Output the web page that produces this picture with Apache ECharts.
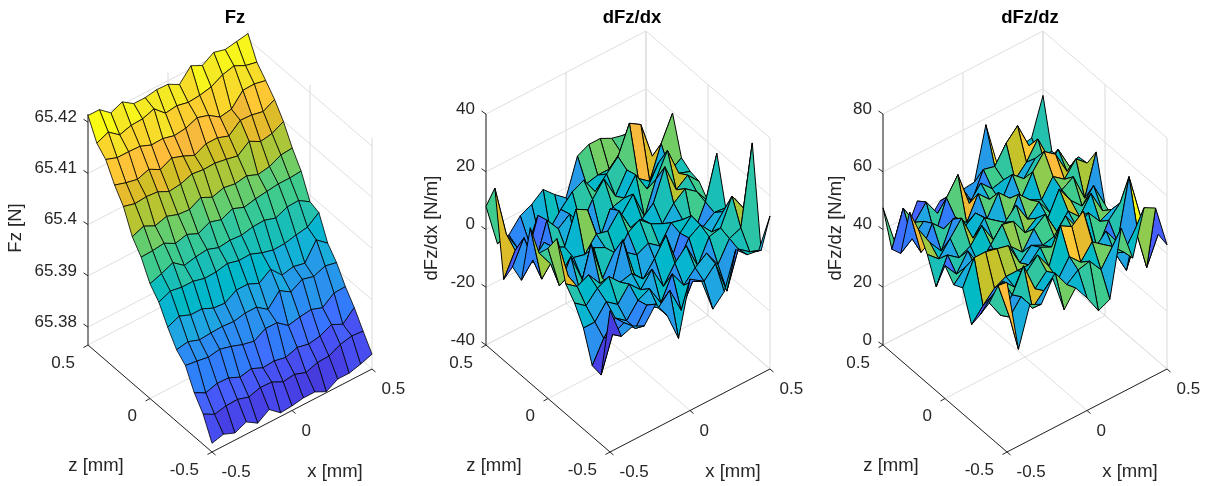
<!DOCTYPE html>
<html>
<head>
<meta charset="utf-8">
<title>Fz surfaces</title>
<style>
  html, body { margin: 0; padding: 0; background: #fff; }
  #main { width: 1205px; height: 486px; }
</style>
<script src="https://cdn.jsdelivr.net/npm/echarts@6/dist/echarts.min.js"></script>
</head>
<body>
<div id="main"></div>
<script>
// grid positions, same for all three surfaces
const xValues = [-0.5, -0.4286, -0.3571, -0.2857, -0.2143, -0.1429, -0.0714, 0, 0.0714, 0.1429, 0.2143, 0.2857, 0.3571, 0.4286, 0.5];
const zValues = [0.5, 0.4286, 0.3571, 0.2857, 0.2143, 0.1429, 0.0714, 0, -0.0714, -0.1429, -0.2143, -0.2857, -0.3571, -0.4286, -0.5];
const floorTicks = [-0.5, 0, 0.5];

const fzTicks = [65.38, 65.39, 65.4, 65.41, 65.42];
const dxTicks = [-40, -20, 0, 20, 40];
const dzTicks = [0, 20, 40, 60, 80];

// one row per z value, one column per x value
const fzValues = [
  [65.4213, 65.4213, 65.4195, 65.4205, 65.4190, 65.4190, 65.4194, 65.4193, 65.4181, 65.4206, 65.4195, 65.4209, 65.4203, 65.4207, 65.4211],
  [65.4174, 65.4184, 65.4167, 65.4174, 65.4175, 65.4183, 65.4163, 65.4166, 65.4161, 65.4163, 65.4168, 65.4180, 65.4186, 65.4175, 65.4170],
  [65.4157, 65.4149, 65.4149, 65.4148, 65.4139, 65.4140, 65.4134, 65.4137, 65.4146, 65.4139, 65.4124, 65.4128, 65.4153, 65.4154, 65.4149],
  [65.4122, 65.4115, 65.4110, 65.4118, 65.4106, 65.4117, 65.4109, 65.4099, 65.4110, 65.4110, 65.4102, 65.4121, 65.4120, 65.4115, 65.4127],
  [65.4095, 65.4089, 65.4091, 65.4089, 65.4078, 65.4081, 65.4089, 65.4086, 65.4087, 65.4083, 65.4078, 65.4095, 65.4083, 65.4087, 65.4099],
  [65.4051, 65.4060, 65.4049, 65.4056, 65.4048, 65.4046, 65.4058, 65.4047, 65.4054, 65.4050, 65.4054, 65.4045, 65.4049, 65.4060, 65.4062],
  [65.4026, 65.4027, 65.4030, 65.4018, 65.4024, 65.4014, 65.4025, 65.4018, 65.4028, 65.4019, 65.4024, 65.4027, 65.4030, 65.4030, 65.4032],
  [65.3989, 65.3997, 65.4007, 65.3990, 65.3995, 65.3998, 65.3990, 65.3993, 65.3991, 65.3996, 65.3997, 65.3990, 65.4000, 65.4001, 65.3987],
  [65.3968, 65.3978, 65.3974, 65.3974, 65.3968, 65.3969, 65.3974, 65.3968, 65.3969, 65.3960, 65.3954, 65.3955, 65.3960, 65.3964, 65.3981],
  [65.3934, 65.3944, 65.3935, 65.3935, 65.3925, 65.3923, 65.3937, 65.3937, 65.3927, 65.3943, 65.3920, 65.3925, 65.3920, 65.3954, 65.3936],
  [65.3905, 65.3909, 65.3901, 65.3903, 65.3904, 65.3902, 65.3907, 65.3907, 65.3891, 65.3916, 65.3902, 65.3915, 65.3909, 65.3918, 65.3913],
  [65.3889, 65.3886, 65.3882, 65.3886, 65.3880, 65.3872, 65.3867, 65.3880, 65.3880, 65.3863, 65.3868, 65.3871, 65.3863, 65.3880, 65.3881],
  [65.3851, 65.3839, 65.3846, 65.3845, 65.3835, 65.3840, 65.3830, 65.3832, 65.3827, 65.3835, 65.3830, 65.3834, 65.3845, 65.3834, 65.3855],
  [65.3824, 65.3812, 65.3817, 65.3818, 65.3811, 65.3818, 65.3817, 65.3806, 65.3809, 65.3801, 65.3809, 65.3810, 65.3821, 65.3826, 65.3824],
  [65.3782, 65.3788, 65.3779, 65.3789, 65.3775, 65.3790, 65.3772, 65.3774, 65.3778, 65.3778, 65.3767, 65.3780, 65.3780, 65.3786, 65.3794]
];

const dxValues = [
  [8, -7, -6, -1.4, 0.5, 3.6, -0.2, -3.4, 9, 11, 11, 9, 8, 5, -6],
  [17, -1, -8, -8, -10, -12, -10, -6, 2, 3, 3, 7, 12, 0, -0.6],
  [-12, -4, -9, 4, -3, 2, 6, 8, 2, 6, 10, 19.5, 17, 4, 6],
  [-5, 3, -8, 5, 0, 3, -3, 4, 9, 1, 8, 3, 0, 11, 19.5],
  [-7, -2, 2, -5, -5.5, -9, -9, -6, 2, 3, 9, 2, 9, 4, 6.7],
  [13.8, -6, 3, 1, 12, 9.8, -3, 6, 2, 7, -3, 8, 16, 6, 4.6],
  [7.7, 2, -3, 0, -1, 4, 3, 8, 0, 1, 4.5, 15, 5, 8, 3.8],
  [12, -3, 5, -5, 4, 2, -3, 3, 5.5, 2, 0, 5, 8, 5, -0.4],
  [18, 3, -4, 10, -4, 3, 1, -2, 0, -3, 3, 2, -4.6, 4, 18.8],
  [5, 2, 4, -1, -3.6, 10, -4, -13, -5, -8, 2, 6, 0, 3, 2.6],
  [1, -2, 2, 4, 0, 1, -3, 2, 8, -4, 3, 5.5, 1, 6, 8.6],
  [-5, -5, 0, -3, 2, -2, 3, -5, 1, 5, -4, 4, 5, 14, 7.8],
  [-15.4, -8, -3, -6, -1, 1, -6, 2, -4, 0, 3, -3, 4, 5.6, 33],
  [-16, -4, -2, -6, 0, -3, 1, -8, 0, -2, 2, -9.5, 3, 0, -1.6],
  [9, -2, -0.5, -2.5, 3, -3, -13, 5.5, 2.8, -9, -5, 7.5, 3.7, 3, 13]
];

const dzValues = [
  [47.5, 34, 35, 43.7, 35, 39.6, 40, 39.5, 40, 57.8, 42, 42, 44, 45, 57.7],
  [35.8, 48, 41, 46, 40, 44, 43, 38, 47, 46, 52, 56, 47, 41, 41],
  [37, 40, 44, 37, 48, 54, 42, 47, 43, 44, 42, 46, 52, 43, 41.4],
  [54, 38, 46, 42, 44, 40, 48, 44, 41, 48.5, 45, 50, 44, 49, 41],
  [50.6, 44, 39, 48, 43, 46, 42, 49, 45, 43, 50, 55, 52, 44, 47],
  [44.6, 41, 46, 51, 42, 47, 44, 41, 49, 45, 43, 49, 46, 51, 47.5],
  [36, 45, 42, 44, 49, 42, 46, 50, 43, 47, 41, 47, 49.5, 40, 54],
  [46, 41, 47, 40, 45, 50, 49, 43, 46, 44, 52, 46, 42, 47, 38.4],
  [42, 46, 43, 48, 42, 45, 41, 47, 50, 42, 47, 43, 49, 41, 36],
  [43.6, 52, 52, 51, 50, 42, 46, 44, 45, 50, 44, 47, 42, 44, 36],
  [33.5, 38, 42, 44, 44, 44, 48, 46, 42, 47, 43, 37, 45, 49, 39.5],
  [39.7, 44, 47, 43, 46, 50, 44, 56, 53.7, 57, 42, 46, 40, 60.7, 45],
  [46.3, 40, 45, 53, 43, 47, 42, 48, 44, 49, 46, 41, 33, 44, 44.7],
  [55, 42, 47, 41, 45, 49, 43, 46, 47, 42, 48, 44, 50, 34.6, 44],
  [58.8, 33.5, 47, 45, 52, 39, 44.5, 39, 32.5, 34.4, 57, 44.6, 60, 57.8, 43]
];

// matlab parula, 64 steps
const parula = [
  [.2422,.1504,.6603],[.2504,.1650,.7076],[.2578,.1818,.7511],[.2647,.1978,.7952],[.2706,.2147,.8364],[.2751,.2342,.8710],
  [.2783,.2559,.8991],[.2803,.2782,.9221],[.2813,.3006,.9414],[.2810,.3228,.9579],[.2795,.3447,.9717],[.2760,.3667,.9829],
  [.2699,.3892,.9906],[.2602,.4123,.9952],[.2440,.4358,.9988],[.2206,.4603,.9973],[.1963,.4847,.9892],[.1834,.5074,.9798],
  [.1786,.5289,.9682],[.1764,.5499,.9520],[.1687,.5703,.9359],[.1540,.5902,.9218],[.1460,.6091,.9079],[.1380,.6276,.8973],
  [.1248,.6459,.8883],[.1113,.6635,.8763],[.0952,.6798,.8598],[.0689,.6948,.8394],[.0297,.7082,.8163],[.0036,.7203,.7917],
  [.0067,.7312,.7660],[.0433,.7411,.7394],[.0964,.7500,.7120],[.1408,.7584,.6842],[.1717,.7670,.6554],[.1938,.7758,.6251],
  [.2161,.7843,.5923],[.2470,.7918,.5567],[.2906,.7973,.5188],[.3406,.8008,.4789],[.3909,.8029,.4354],[.4456,.8024,.3909],
  [.5044,.7993,.3480],[.5616,.7942,.3045],[.6174,.7876,.2612],[.6720,.7793,.2227],[.7242,.7698,.1910],[.7738,.7598,.1646],
  [.8203,.7498,.1535],[.8634,.7406,.1596],[.9035,.7330,.1774],[.9393,.7288,.2100],[.9728,.7298,.2394],[.9956,.7434,.2371],
  [.9970,.7659,.2199],[.9952,.7861,.2037],[.9892,.8136,.1885],[.9786,.8386,.1766],[.9676,.8639,.1643],[.9610,.8892,.1537],
  [.9597,.9135,.1423],[.9628,.9373,.1265],[.9691,.9606,.1064],[.9769,.9839,.0805]
];

const panels = [
  { title: 'Fz', titleLeft: 230, left: 88, name: 'Fz [N]', nameLeft: -72, grid: fzValues, ticks: fzTicks, lim: [65.3765, 65.4216], clim: [65.3767, 65.4213], edge: 0.8 },
  { title: 'dFz/dx', titleLeft: 627, left: 486, name: 'dFz/dx [N/m]', nameLeft: -54, grid: dxValues, ticks: dxTicks, lim: [-40, 40], clim: [-20, 28], edge: 1 },
  { title: 'dFz/dz', titleLeft: 1025, left: 883, name: 'dFz/dz [N/m]', nameLeft: -47, grid: dzValues, ticks: dzTicks, lim: [0, 80], clim: [29, 60], edge: 1 }
];

const textColor = '#262626';
const gridColor = '#dfdfdf';
const fontFamily = '"Liberation Sans", Arial, sans-serif';

// view of the box: share of width and height taken by each direction
function project(xv, zv, val, lim) {
  const xn = xv + 0.5;
  const zn = zv + 0.5;
  const hn = (val - lim[0]) / (lim[1] - lim[0]);
  return [(160 * xn + 124 * (1 - zn)) / 284, (83 * xn + 107 * zn + 231 * hn) / 421];
}

function faceColor(v, clim) {
  let t = (v - clim[0]) / (clim[1] - clim[0]);
  t = Math.max(0, Math.min(1, t));
  const c = parula[Math.round(t * (parula.length - 1))];
  return 'rgb(' + c.map(a => Math.round(a * 255)).join(',') + ')';
}

function line(p, q, color, width) {
  return {
    type: 'line',
    shape: { x1: p[0], y1: p[1], x2: q[0], y2: q[1] },
    style: { stroke: color, lineWidth: width }
  };
}

function label(str, x, y, align, size, rotation) {
  return {
    type: 'text',
    x: x,
    y: y,
    rotation: rotation || 0,
    style: { text: str, fill: textColor, fontSize: size, fontFamily: fontFamily, textAlign: align, textVerticalAlign: 'middle' }
  };
}

function renderFrame(panel) {
  return function (params, api) {
    const lim = panel.lim;
    const top = lim[1];
    const low = lim[0];
    const pt = (x, z, v) => api.coord(project(x, z, v, lim));
    const kids = [];

    // walls and floor
    panel.ticks.forEach(t => {
      kids.push(line(pt(-0.5, 0.5, t), pt(0.5, 0.5, t), gridColor, 1));
      kids.push(line(pt(0.5, 0.5, t), pt(0.5, -0.5, t), gridColor, 1));
    });
    floorTicks.forEach(t => {
      kids.push(line(pt(t, 0.5, low), pt(t, 0.5, top), gridColor, 1.2));
      kids.push(line(pt(0.5, t, low), pt(0.5, t, top), gridColor, 1.2));
      kids.push(line(pt(t, 0.5, low), pt(t, -0.5, low), gridColor, 1));
      kids.push(line(pt(-0.5, t, low), pt(0.5, t, low), gridColor, 1));
    });

    // axis lines
    kids.push(line(pt(-0.5, 0.5, low), pt(-0.5, 0.5, top), textColor, 1));
    kids.push(line(pt(-0.5, 0.5, low), pt(-0.5, -0.5, low), textColor, 1));
    kids.push(line(pt(-0.5, -0.5, low), pt(0.5, -0.5, low), textColor, 1));

    // height ticks and labels
    panel.ticks.forEach(t => {
      const p = pt(-0.5, 0.5, t);
      kids.push(line(p, [p[0] - 4.5, p[1] - 3], textColor, 1));
      kids.push(label(String(t), p[0] - 11, p[1] - 5, 'right', 17));
    });
    // floor ticks and labels
    floorTicks.forEach(t => {
      const a = pt(-0.5, t, low);
      kids.push(line(a, [a[0] - 4.5, a[1] + 2.5], textColor, 1));
      kids.push(label(String(t), a[0] - 13, a[1] + 18, 'right', 17));
      const b = pt(t, -0.5, low);
      kids.push(line(b, [b[0] + 3.5, b[1] + 3], textColor, 1));
      kids.push(label(String(t), b[0] + 9.5, b[1] + 20.5, 'left', 17));
    });

    const corner = pt(-0.5, 0.5, low);
    kids.push(label('z [mm]', corner[0] + 8, corner[1] + 121, 'center', 18.5));
    kids.push(label('x [mm]', corner[0] + 247, corner[1] + 127, 'center', 18.5));
    kids.push(label(panel.name, corner[0] + panel.nameLeft, 228, 'center', 18.5, Math.PI / 2));
    return { type: 'group', children: kids };
  };
}

function renderFace(panel) {
  return function (params, api) {
    const i = api.value(0);
    const j = api.value(1);
    const g = panel.grid;
    const pt = (a, b) => api.coord(project(xValues[a], zValues[b], g[b][a], panel.lim));
    return {
      type: 'polygon',
      shape: { points: [pt(i, j), pt(i + 1, j), pt(i + 1, j + 1), pt(i, j + 1)] },
      style: { fill: faceColor(g[j][i], panel.clim), stroke: '#000', lineWidth: panel.edge, lineJoin: 'round' }
    };
  };
}

// far cells first, so nearer ones paint over them
const faceOrder = [];
for (let j = 0; j < zValues.length - 1; j++) {
  for (let i = xValues.length - 2; i >= 0; i--) {
    faceOrder.push([i, j]);
  }
}

const series = [];
panels.forEach((panel, k) => {
  series.push({
    type: 'custom', xAxisIndex: k, yAxisIndex: k, silent: true, clip: false, z: 1,
    renderItem: renderFrame(panel), data: [[0, 0]]
  });
  series.push({
    type: 'custom', xAxisIndex: k, yAxisIndex: k, silent: true, clip: false, z: 2, progressive: 0,
    renderItem: renderFace(panel), data: faceOrder
  });
});

const chart = echarts.init(document.getElementById('main'));
chart.setOption({
  backgroundColor: '#fff',
  animation: false,
  title: panels.map(p => ({
    text: p.title, left: p.titleLeft, top: 3, textAlign: 'center',
    textStyle: { color: '#000', fontSize: 18.5, fontWeight: 'bold', fontFamily: fontFamily }
  })),
  grid: panels.map(p => ({ left: p.left, top: 31, width: 284, height: 421 })),
  xAxis: panels.map((p, k) => ({ type: 'value', gridIndex: k, min: 0, max: 1, show: false })),
  yAxis: panels.map((p, k) => ({ type: 'value', gridIndex: k, min: 0, max: 1, show: false })),
  series: series
});
</script>
</body>
</html>
